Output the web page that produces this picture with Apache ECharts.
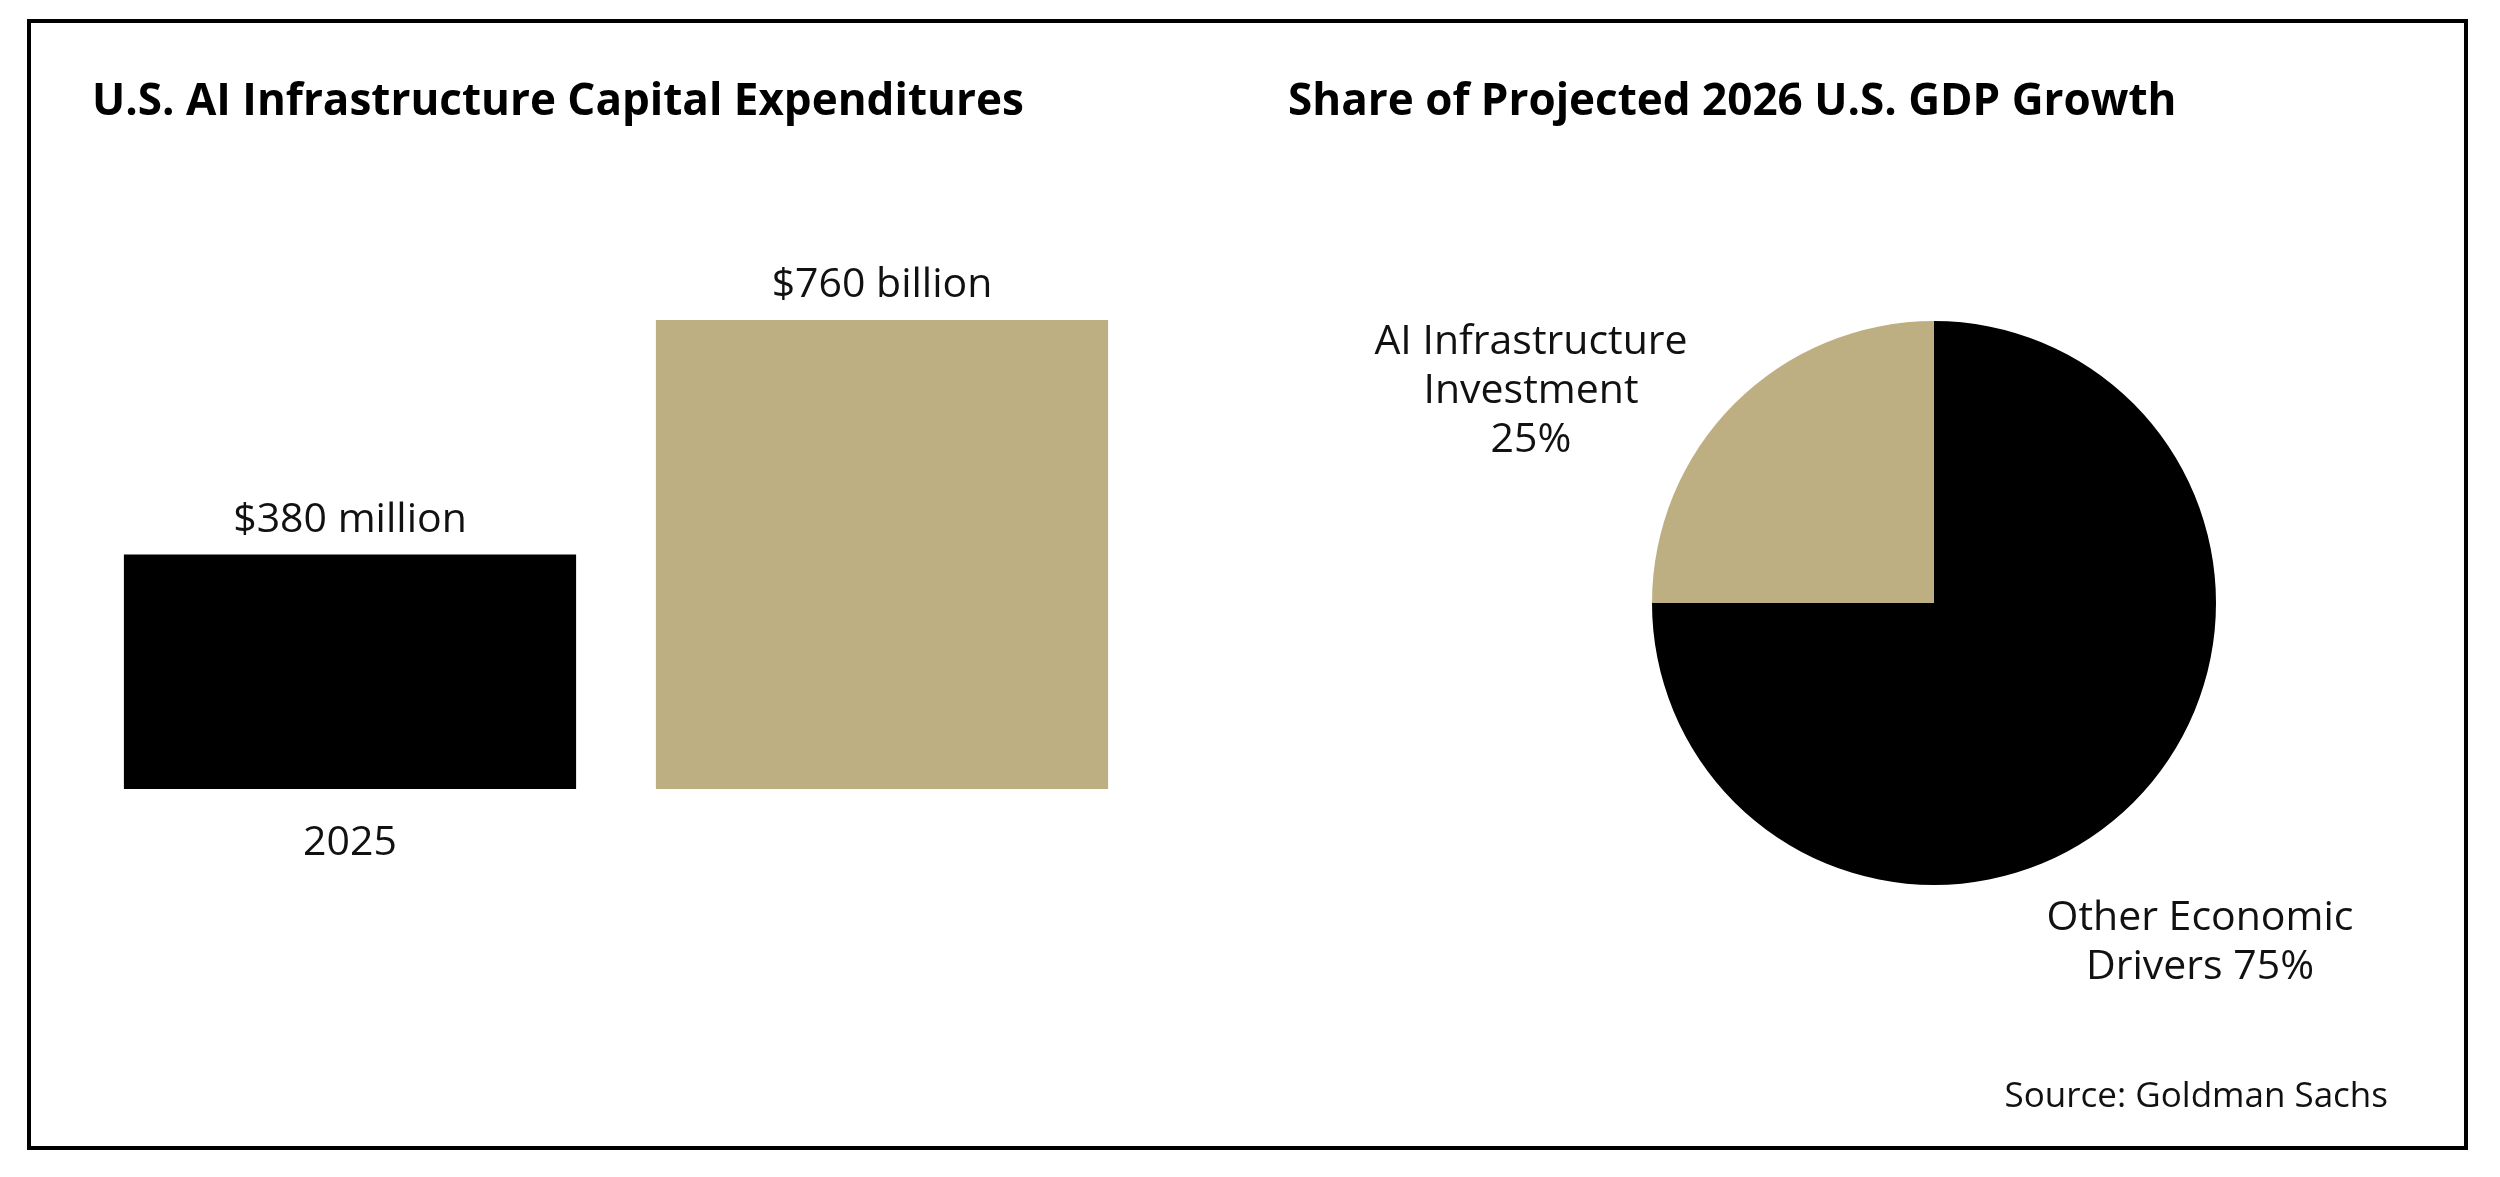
<!DOCTYPE html>
<html><head><meta charset="utf-8">
<script src="https://cdn.jsdelivr.net/npm/echarts@6/dist/echarts.min.js"></script>
<style>html,body{margin:0;background:#fff}#c{width:2500px;height:1177px}</style>
</head><body><div id="c"></div>
<script>
const barCategories = ['2025', 'Share of Projected 2026\nU.S. GDP Growth'];
const barValues = [380, 760];
const barLabels = ['$380 million', '$760 billion'];
const barColors = ['#000000', '#BEAF82'];
const pieNames = ['Other Economic Drivers', 'AI Infrastructure Investment'];
const pieValues = [75, 25];
const pieColors = ['#000000', '#BEAF82'];
const F = 'Open Sans';
const chart = echarts.init(document.getElementById('c'));
chart.setOption({
  backgroundColor: '#fff',
  animation: false,
  textStyle: {fontFamily: F},
  grid: {left: 84, width: 1064, top: 320, bottom: 388},
  xAxis: {type: 'category', data: barCategories, axisLine: {show: false}, axisTick: {show: false},
    axisLabel: {color: '#111', fontSize: 41, margin: 30, lineHeight: 48, fontFamily: F}},
  yAxis: {type: 'value', min: 0, max: 760, show: false},
  series: [{
    type: 'bar', barWidth: '85%',
    data: barValues.map((v, i) => ({value: v, itemStyle: {color: barColors[i]}, label: {formatter: barLabels[i]}})),
    label: {show: true, position: 'top', distance: 14, color: '#111', fontSize: 41, fontFamily: F}
  }, {
    type: 'pie', center: [1934, 603], radius: 282, startAngle: 90, clockwise: true,
    data: pieValues.map((v, i) => ({name: pieNames[i], value: v, itemStyle: {color: pieColors[i]}})),
    label: {show: false}, labelLine: {show: false}
  }],
  graphic: [
    {type: 'rect', shape: {x: 29, y: 21, width: 2437, height: 1127}, style: {fill: 'none', stroke: '#000', lineWidth: 4}},
    {type: 'text', left: 92, top: 80, style: {text: 'U.S. AI Infrastructure Capital Expenditures', font: 'bold 44px "Open Sans"', fill: '#000'}},
    {type: 'text', left: 1288, top: 80, style: {text: 'Share of Projected 2026 U.S. GDP Growth', font: 'bold 44px "Open Sans"', fill: '#000'}},
    {type: 'text', x: 1531, y: 318, style: {text: 'AI Infrastructure\nInvestment\n' + pieValues[1] + '%', font: '41px "Open Sans"', lineHeight: 49, fill: '#111', align: 'center'}},
    {type: 'text', x: 2200, y: 894, style: {text: 'Other Economic\nDrivers ' + pieValues[0] + '%', font: '41px "Open Sans"', lineHeight: 49, fill: '#111', align: 'center'}},
    {type: 'text', x: 2388, y: 1080, style: {text: 'Source: Goldman Sachs', font: '35px "Open Sans"', fill: '#111', align: 'right'}}
  ]
});
</script></body></html>
